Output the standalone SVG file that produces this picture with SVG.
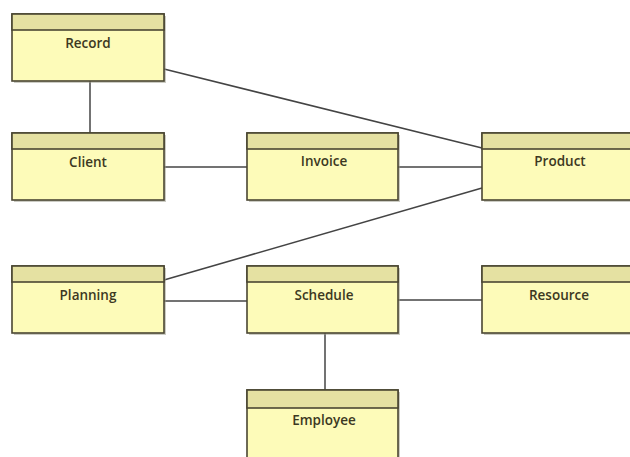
<svg xmlns="http://www.w3.org/2000/svg" width="630" height="457" viewBox="0 0 630 457">
<style>
.shadow{fill:#9a9a8a;opacity:0.5}
.body{fill:#fdfbb9;stroke:#4a4632;stroke-width:1.6}
.head{fill:#e5e1a2;stroke:#4a4632;stroke-width:1.6}
.lbl{font-family:"Open Sans","Noto Sans",sans-serif;font-size:13.5px;font-weight:600;fill:#3c3822;text-anchor:middle}
.conn line{stroke:#444;stroke-width:1.5}
</style>
<rect width="630" height="457" fill="#ffffff"/>
<g class="conn">
<line x1="90" y1="81" x2="90" y2="133"/>
<line x1="164" y1="69" x2="482" y2="148"/>
<line x1="164" y1="167" x2="247" y2="167"/>
<line x1="398" y1="167" x2="482" y2="167"/>
<line x1="164" y1="280" x2="482" y2="188"/>
<line x1="164" y1="301" x2="247" y2="301"/>
<line x1="398" y1="300" x2="482" y2="300"/>
<line x1="325" y1="333" x2="325" y2="390"/>
</g>
<g id="record">
<rect class="shadow" x="14" y="16" width="152" height="67"/>
<rect class="body" x="12" y="14" width="152" height="67"/>
<rect class="head" x="12" y="14" width="152" height="16"/>
<text class="lbl" x="88" y="48">Record</text>
</g>
<g id="client">
<rect class="shadow" x="14" y="135" width="152" height="67"/>
<rect class="body" x="12" y="133" width="152" height="67"/>
<rect class="head" x="12" y="133" width="152" height="16"/>
<text class="lbl" x="88" y="167">Client</text>
</g>
<g id="invoice">
<rect class="shadow" x="249" y="135" width="151" height="67"/>
<rect class="body" x="247" y="133" width="151" height="67"/>
<rect class="head" x="247" y="133" width="151" height="16"/>
<text class="lbl" x="324" y="166">Invoice</text>
</g>
<g id="product">
<rect class="shadow" x="484" y="135" width="152" height="67"/>
<rect class="body" x="482" y="133" width="152" height="67"/>
<rect class="head" x="482" y="133" width="152" height="16"/>
<text class="lbl" x="560" y="166">Product</text>
</g>
<g id="planning">
<rect class="shadow" x="14" y="268" width="152" height="67"/>
<rect class="body" x="12" y="266" width="152" height="67"/>
<rect class="head" x="12" y="266" width="152" height="16"/>
<text class="lbl" x="88" y="300">Planning</text>
</g>
<g id="schedule">
<rect class="shadow" x="249" y="268" width="151" height="67"/>
<rect class="body" x="247" y="266" width="151" height="67"/>
<rect class="head" x="247" y="266" width="151" height="16"/>
<text class="lbl" x="324" y="300">Schedule</text>
</g>
<g id="resource">
<rect class="shadow" x="484" y="268" width="152" height="67"/>
<rect class="body" x="482" y="266" width="152" height="67"/>
<rect class="head" x="482" y="266" width="152" height="16"/>
<text class="lbl" x="559" y="300">Resource</text>
</g>
<g id="employee">
<rect class="shadow" x="249" y="392" width="151" height="80"/>
<rect class="body" x="247" y="390" width="151" height="80"/>
<rect class="head" x="247" y="390" width="151" height="18"/>
<text class="lbl" x="324" y="425">Employee</text>
</g>
</svg>
